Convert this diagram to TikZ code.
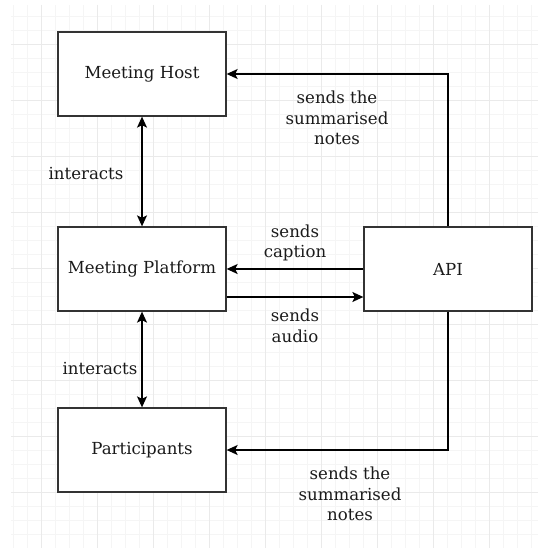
\documentclass[tikz,border=0pt]{standalone}
\usepackage{fontspec}
\setmainfont{DejaVu Serif}
\usetikzlibrary{arrows.meta}
\definecolor{gridminor}{HTML}{F5F5F5}
\definecolor{gridmajor}{HTML}{EAEAEA}
\definecolor{boxline}{HTML}{333333}
\definecolor{ink}{HTML}{1A1A1A}
\begin{document}
\begin{tikzpicture}[x=1pt, y=-1pt,
  block/.style={draw=boxline, line width=1.3pt, fill=white, text=ink,
    minimum width=168pt, minimum height=84pt, inner sep=0pt,
    font=\fontsize{16.6}{20}\selectfont},
  link/.style={draw=black, line width=1.3pt,
    >={Stealth[length=11pt, width=10pt, inset=2.5pt]}},
  tag/.style={align=center, text=ink, inner sep=0pt,
    font=\fontsize{16.6}{20.5}\selectfont}]
  \useasboundingbox (0,0) rectangle (538,548);

  % Grid
  \foreach \k in {0,...,37}
    \draw[gridminor, line width=0.8pt] (13.7+14*\k,5) -- (13.7+14*\k,548);
  \foreach \k in {1,...,38}
    \draw[gridminor, line width=0.8pt] (11,2.7+14*\k) -- (538,2.7+14*\k);
  \foreach \k in {0,...,8} {
    \draw[gridmajor, line width=0.8pt] (41.7+56*\k,5) -- (41.7+56*\k,548);
    \draw[gridmajor, line width=0.8pt] (11,44.7+56*\k) -- (538,44.7+56*\k);
  }

  % Boxes
  \node[block] (host) at (142,74) {Meeting Host};
  \node[block] (platform) at (142,269) {Meeting Platform};
  \node[block] (part) at (142,450) {Participants};
  \node[block] (api) at (448,269) {API};

  % Connectors
  \draw[link, <->] (host) -- (platform);
  \draw[link, <->] (platform) -- (part);
  \draw[link, ->] (api.north) |- (host.east);
  \draw[link, ->] (api.south) |- (part.east);
  \draw[link, ->] (api.west) -- (platform.east);
  \draw[link, ->] ([yshift=-28pt]platform.east) -- ([yshift=-28pt]api.west);

  % Labels
  \node[tag] (l1) at (86,174) {interacts};
  \node[tag] (l2) at (100,369) {interacts};
  \node[tag] (l3) at (337,118) {sends the\\summarised\\notes};
  \node[tag] (l4) at (295,243) {sends\\caption};
  \node[tag] (l5) at (295,326) {sends\\audio};
  \node[tag] (l6) at (350,494) {sends the\\summarised\\notes};
\end{tikzpicture}
\end{document}
